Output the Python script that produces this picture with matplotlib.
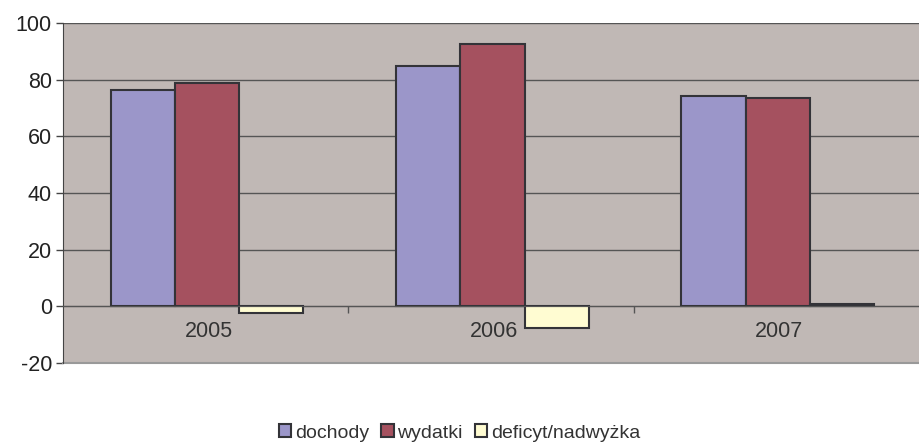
import numpy as np
import matplotlib
matplotlib.use('Agg')
import matplotlib.pyplot as plt

plt.rcParams['font.family'] = ['Liberation Sans', 'DejaVu Sans']
plt.rcParams['axes.unicode_minus'] = False

# Data
years = ['2005', '2006', '2007']
dochody = [76.5, 84.8, 74.2]
wydatki = [78.8, 92.5, 73.6]
deficyt = [-2.4, -7.5, 0.7]
series_names = ['dochody', 'wydatki', 'deficyt/nadwyżka']
series_colors = ['#9B96C9', '#A5515F', '#FFFCD2']

fig = plt.figure(figsize=(9.19, 4.46), dpi=100)
ax = fig.add_axes([63 / 919, 83 / 446, 1 - 63 / 919, 340 / 446])
ax.set_facecolor('#C0B8B5')

x = np.arange(len(years))
w = 0.225
for i, (vals, name, col) in enumerate(zip([dochody, wydatki, deficyt], series_names, series_colors)):
    ax.bar(x + (i - 1) * w + 0.005, vals, w, color=col, edgecolor='#333338', linewidth=1.5,
           label=name, zorder=3)

ax.set_xlim(-0.5, len(years) - 0.5)
ax.set_ylim(-20, 100)
ax.set_yticks(range(-20, 101, 20))
ax.tick_params(axis='y', labelsize=15.5, colors='#444444', labelcolor='#222222',
               length=5, width=1, direction='out', pad=3)
ax.grid(axis='y', color='#555555', linewidth=1, zorder=1)

# x axis sits at zero, ticks between categories
ax.spines['bottom'].set_position(('data', 0))
ax.spines['bottom'].set_color('#555555')
ax.spines['bottom'].set_zorder(4)
ax.set_xticks(np.arange(0.5, len(years) - 0.5, 1))
ax.set_xticklabels([])
ax.tick_params(axis='x', length=5, width=1, colors='#555555', direction='out')
for xi, yr in zip(x, years):
    ax.text(xi + 0.01, -9, yr, ha='center', va='center', fontsize=15.5, color='#333333')

ax.axhline(-20, color='#999999', linewidth=1.5, clip_on=False, zorder=2)
ax.spines['left'].set_color('#444444')
ax.spines['top'].set_visible(False)
ax.spines['right'].set_visible(False)

handles, labels = ax.get_legend_handles_labels()
fig.legend(handles, labels, loc='center', bbox_to_anchor=(0.5, 1 - 433 / 446), ncol=3,
           frameon=False, fontsize=14, handlelength=0.65, handleheight=0.65,
           handletextpad=0.2, columnspacing=0.6, labelcolor='#333333')

fig.savefig('out.png', dpi=100)
